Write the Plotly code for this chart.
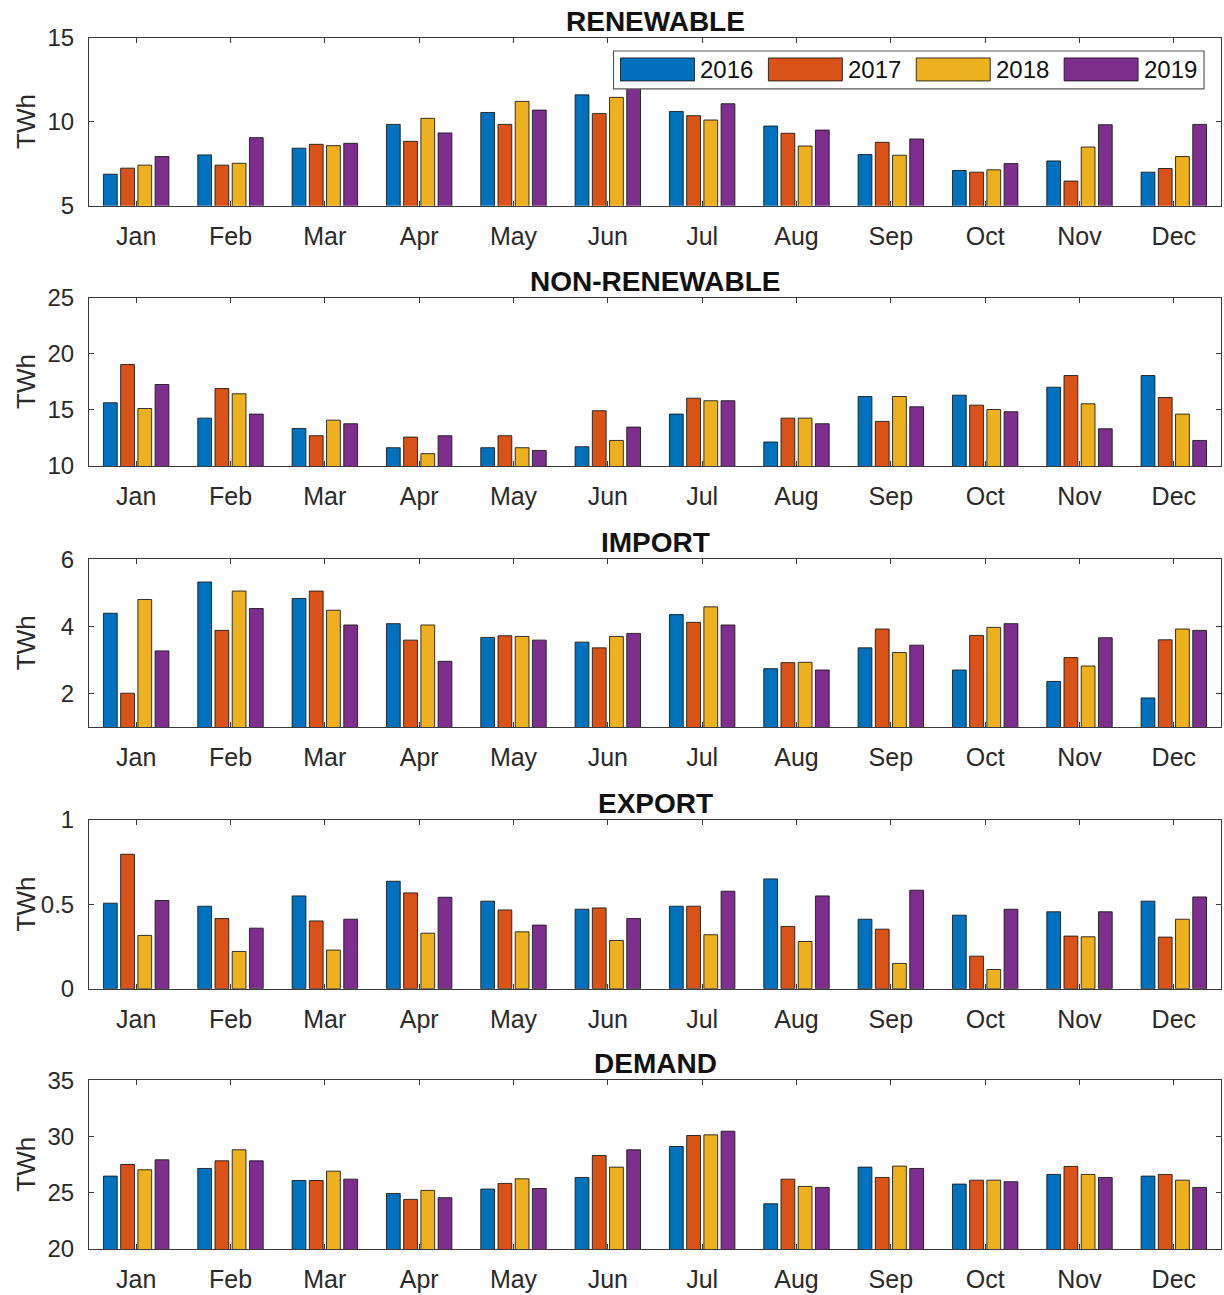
import plotly.graph_objects as go
from plotly.subplots import make_subplots

# Monthly energy figures (TWh) for 2016-2019
months = ["Jan", "Feb", "Mar", "Apr", "May", "Jun",
          "Jul", "Aug", "Sep", "Oct", "Nov", "Dec"]
years = ["2016", "2017", "2018", "2019"]
year_colors = ["#0072BD", "#D95319", "#EDB120", "#7E2F8E"]

renewable = [
    [6.88, 8.03, 8.43, 9.85, 10.56, 11.61, 10.62, 9.75, 8.05, 7.10, 7.67, 7.00],
    [7.24, 7.42, 8.66, 8.84, 9.85, 10.49, 10.37, 9.32, 8.78, 7.00, 6.47, 7.22],
    [7.42, 7.53, 8.58, 10.21, 11.22, 11.46, 10.11, 8.56, 8.01, 7.14, 8.50, 7.93],
    [7.93, 9.06, 8.72, 9.34, 10.70, 12.40, 11.08, 9.51, 8.98, 7.51, 9.83, 9.85],
]
non_renewable = [
    [15.64, 14.27, 13.35, 11.63, 11.63, 11.72, 14.63, 12.14, 16.20, 16.32, 17.03, 18.07],
    [19.05, 16.91, 12.70, 12.58, 12.70, 14.93, 16.05, 14.27, 13.98, 15.43, 18.07, 16.11],
    [15.13, 16.44, 14.09, 11.10, 11.63, 12.28, 15.82, 14.27, 16.20, 15.04, 15.55, 14.63],
    [17.27, 14.63, 13.77, 12.70, 11.39, 13.47, 15.82, 13.77, 15.28, 14.84, 13.32, 12.28],
]
imports = [
    [4.39, 5.32, 4.83, 4.08, 3.67, 3.53, 4.35, 2.74, 3.36, 2.70, 2.36, 1.87],
    [2.01, 3.88, 5.05, 3.59, 3.72, 3.36, 4.12, 2.92, 3.92, 3.73, 3.07, 3.60],
    [4.80, 5.05, 4.48, 4.04, 3.70, 3.70, 4.58, 2.93, 3.22, 3.97, 2.82, 3.92],
    [3.27, 4.53, 4.04, 2.96, 3.59, 3.79, 4.04, 2.70, 3.44, 4.08, 3.66, 3.88],
]
exports = [
    [0.507, 0.489, 0.550, 0.637, 0.519, 0.471, 0.489, 0.651, 0.412, 0.436, 0.456, 0.519],
    [0.797, 0.416, 0.402, 0.568, 0.467, 0.479, 0.489, 0.369, 0.353, 0.193, 0.312, 0.306],
    [0.316, 0.221, 0.229, 0.329, 0.337, 0.286, 0.320, 0.280, 0.150, 0.114, 0.308, 0.412],
    [0.523, 0.359, 0.412, 0.542, 0.377, 0.416, 0.578, 0.550, 0.584, 0.471, 0.456, 0.544],
]
demand = [
    [26.48, 27.16, 26.09, 24.94, 25.33, 26.36, 29.11, 24.02, 27.28, 25.77, 26.63, 26.48],
    [27.51, 27.84, 26.09, 24.41, 25.83, 28.31, 30.09, 26.21, 26.36, 26.12, 27.34, 26.63],
    [27.04, 28.82, 26.92, 25.21, 26.24, 27.28, 30.15, 25.56, 27.37, 26.12, 26.63, 26.12],
    [27.93, 27.84, 26.21, 24.56, 25.38, 28.82, 30.47, 25.47, 27.16, 25.98, 26.36, 25.47],
]

panel_titles = ["RENEWABLE", "NON-RENEWABLE", "IMPORT", "EXPORT", "DEMAND"]
panel_data = [renewable, non_renewable, imports, exports, demand]
panel_ranges = [[5, 15], [10, 25], [1, 6], [0, 1], [20, 35]]
panel_ticks = [[5, 10, 15], [10, 15, 20, 25], [2, 4, 6], [0, 0.5, 1], [20, 25, 30, 35]]
panel_ticktext = [["5", "10", "15"], ["10", "15", "20", "25"], ["2", "4", "6"],
                  ["0", "0.5", "1"], ["20", "25", "30", "35"]]

# page geometry in pixels
W, H = 1224, 1295
ML, MR, MT, MB = 89, 2, 38, 44
PW = W - ML - MR
PH = H - MT - MB
panel_px = [(38.0, 206.0), (298.3, 466.7), (560.0, 728.3), (821.3, 990.3), (1082.0, 1251.0)]


def px_x(px):
    return (px - ML) / PW


def px_y(py):
    return (H - MB - py) / PH


def clamp(v):
    return min(1.0, max(0.0, v))


AXIS_COLOR = "#3a3a3a"
TEXT_COLOR = "#2a2a2a"
FONT = "Liberation Sans, Arial, sans-serif"

fig = make_subplots(rows=5, cols=1)

for p, data in enumerate(panel_data):
    for k, yr in enumerate(years):
        fig.add_trace(
            go.Bar(
                x=months, y=data[k], name=yr,
                marker=dict(color=year_colors[k],
                            line=dict(color="rgba(20,20,20,0.85)", width=1)),
                showlegend=False,
            ),
            row=p + 1, col=1,
        )

layout_axes = {}
for p in range(5):
    top, bot = panel_px[p]
    sfx = "" if p == 0 else str(p + 1)
    layout_axes["xaxis" + sfx] = dict(
        domain=[0, 1], type="category", range=[-0.5, 11.5],
        showline=True, mirror="allticks", linecolor=AXIS_COLOR, linewidth=1,
        ticks="inside", ticklen=5, tickcolor=AXIS_COLOR, tickwidth=1,
        tickfont=dict(size=25, color=TEXT_COLOR, family=FONT),
        ticklabelstandoff=8, showgrid=False, zeroline=False, fixedrange=True,
    )
    layout_axes["yaxis" + sfx] = dict(
        domain=[clamp(px_y(bot)), clamp(px_y(top))], range=panel_ranges[p],
        tickvals=panel_ticks[p], ticktext=panel_ticktext[p],
        showline=True, mirror="allticks", linecolor=AXIS_COLOR, linewidth=1,
        ticks="inside", ticklen=5, tickcolor=AXIS_COLOR, tickwidth=1,
        tickfont=dict(size=24, color=TEXT_COLOR, family=FONT),
        ticklabelstandoff=9, showgrid=False, zeroline=False, fixedrange=True,
    )

annotations = []
for p in range(5):
    top, bot = panel_px[p]
    annotations.append(dict(
        text="<b>%s</b>" % panel_titles[p], xref="paper", yref="paper",
        x=0.5, y=px_y(top), xanchor="center", yanchor="bottom", yshift=-1,
        showarrow=False, font=dict(size=28, color="#111111", family=FONT),
    ))
    annotations.append(dict(
        text="TWh", xref="paper", yref="paper",
        x=px_x(26), y=px_y((top + bot) / 2), xanchor="center", yanchor="middle",
        textangle=-90, showarrow=False,
        font=dict(size=26, color=TEXT_COLOR, family=FONT),
    ))

# year key in the top panel
shapes = [dict(
    type="rect", xref="paper", yref="paper",
    x0=px_x(614), x1=px_x(1205), y0=px_y(89), y1=px_y(51),
    fillcolor="white", line=dict(color="#5a5a5a", width=1.2), layer="above",
)]
for k, yr in enumerate(years):
    x0 = 621 + 148 * k
    shapes.append(dict(
        type="rect", xref="paper", yref="paper",
        x0=px_x(x0), x1=px_x(x0 + 74), y0=px_y(81), y1=px_y(58),
        fillcolor=year_colors[k], line=dict(color="rgba(20,20,20,0.85)", width=1),
        layer="above",
    ))
    annotations.append(dict(
        text=yr, xref="paper", yref="paper",
        x=px_x(x0 + 78), y=px_y(69.5), xanchor="left", yanchor="middle",
        showarrow=False, font=dict(size=24, color="#111111", family=FONT),
    ))

fig.update_layout(
    width=W, height=H,
    margin=dict(l=ML, r=MR, t=MT, b=MB),
    paper_bgcolor="white", plot_bgcolor="white",
    barmode="group", bargap=0.27, bargroupgap=0.2,
    showlegend=False,
    annotations=annotations, shapes=shapes,
    **layout_axes,
)

fig.write_html("out.html", config={"displayModeBar": False})
